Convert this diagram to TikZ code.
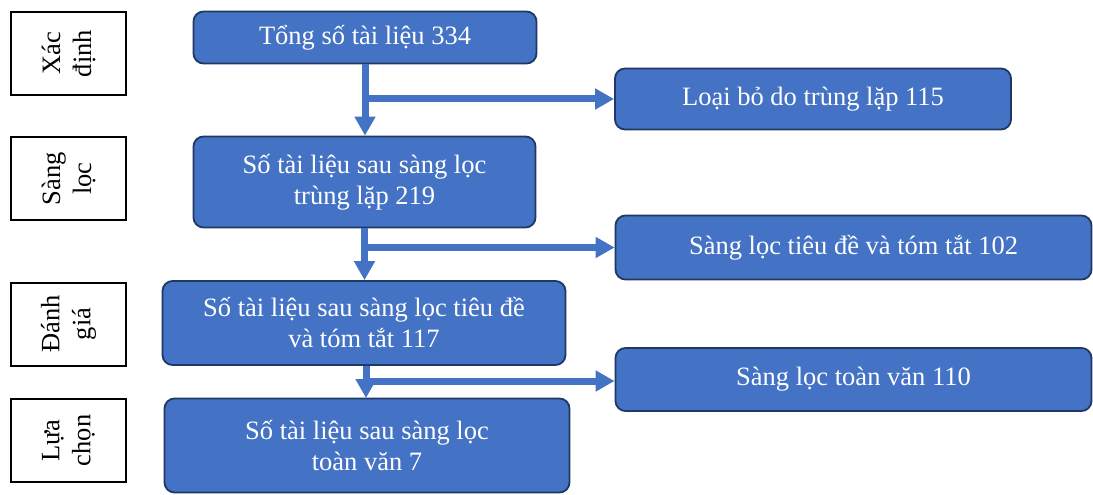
\documentclass[tikz,border=0pt]{standalone}
\usepackage{fontspec}
\setmainfont{Liberation Serif}
\usetikzlibrary{arrows.meta}

\definecolor{boxblue}{HTML}{4472C4}
\definecolor{boxline}{HTML}{1F3864}

\tikzset{
  stage/.style={draw=boxline, line width=1.8pt, fill=boxblue, rounded corners=10pt,
    text=white, align=center, inner sep=0pt, font=\fontsize{26.5}{31}\selectfont},
  phase/.style={draw=black, line width=2pt, fill=white, align=center, rotate=90,
    inner sep=0pt, minimum width=83pt, minimum height=115pt, font=\fontsize{26.5}{31}\selectfont},
  flow/.style={draw=boxblue, line width=7pt, -{Triangle[length=19pt,width=20pt]}}
}

\begin{document}
\begin{tikzpicture}[x=1pt,y=1pt,yscale=-1]
\useasboundingbox (0,0) rectangle (1093,495);

%Phases
\node [phase] (xacdinh) at (68.5,53.5) {Xác\\định};
\node [phase] (sangloc) at (68.5,178.5) {Sàng\\lọc};
\node [phase] (danhgia) at (68.5,324) {Đánh\\giá};
\node [phase] (luachon) at (68.5,440.5) {Lựa\\chọn};

%Main steps
\node [stage, minimum width=343pt, minimum height=52pt] (tong) at (365,37.5) {Tổng số tài liệu 334};
\node [stage, minimum width=342pt, minimum height=91pt] (trunglap) at (364.5,182) {Số tài liệu sau sàng lọc\\trùng lặp 219};
\node [stage, minimum width=403pt, minimum height=84pt] (tieude) at (364,323) {Số tài liệu sau sàng lọc tiêu đề\\và tóm tắt 117};
\node [stage, minimum width=405pt, minimum height=94pt] (toanvan) at (367,445.5) {Số tài liệu sau sàng lọc\\toàn văn 7};

%Excluded
\node [stage, minimum width=396pt, minimum height=61pt] (loai1) at (813,99) {Loại bỏ do trùng lặp 115};
\node [stage, minimum width=476pt, minimum height=64pt] (loai2) at (853.5,247.5) {Sàng lọc tiêu đề và tóm tắt 102};
\node [stage, minimum width=476pt, minimum height=63pt] (loai3) at (853.5,379.5) {Sàng lọc toàn văn 110};

%Arrows
\draw [flow] (tong.south) -- (tong.south |- trunglap.north);
\draw [flow] (tong.south |- loai1.west) -- (loai1.west);
\draw [flow] (trunglap.south) -- (trunglap.south |- tieude.north);
\draw [flow] (trunglap.south |- loai2.west) -- (loai2.west);
\draw [flow] (366,366) -- (366,398);
\draw [flow] (366,381) -- (loai3.west |- 0,381);

\end{tikzpicture}
\end{document}
